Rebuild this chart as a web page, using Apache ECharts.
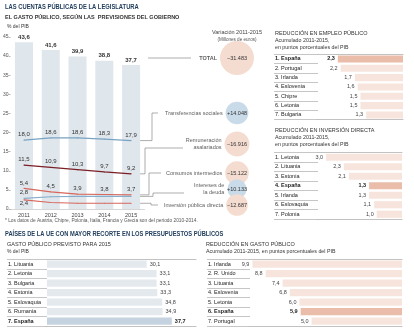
<!DOCTYPE html>
<html><head><meta charset="utf-8">
<script src="https://cdn.jsdelivr.net/npm/echarts@6/dist/echarts.min.js"></script>
<style>html,body{margin:0;padding:0;background:#fff}#c{width:414px;height:332px}</style>
</head><body><div id="c"></div>
<script>
// ---------- DATA ----------
const years = ['2011', '2012', '2013', '2014', '2015'];
const gastoTotal = [43.6, 41.6, 39.9, 38.8, 37.7];
const transferencias = [18.0, 18.6, 18.6, 18.3, 17.9];
const remuneracion = [11.5, 10.9, 10.3, 9.7, 9.2];
const consumos = [5.4, 4.5, 3.9, 3.8, 3.7];
const intereses = [2.8, 3.2, 3.3, 3.3, 3.3];
const inversion = [2.4, 1.7, 1.5, 1.5, 1.5];

const partidas = ['TOTAL', 'Transferencias sociales', 'Remuneración\nasalariados', 'Consumos intermedios', 'Intereses de\nla deuda', 'Inversión pública directa'];
const variacion = [-31483, 14048, -16916, -15122, 10133, -12687];

const empleoPaises = ['España', 'Portugal', 'Irlanda', 'Eslovenia', 'Chipre', 'Letonia', 'Bulgaria'];
const empleoValores = [2.3, 2.2, 1.7, 1.6, 1.5, 1.5, 1.3];
const inversionPaises = ['Letonia', 'Lituania', 'Estonia', 'España', 'Irlanda', 'Eslovaquia', 'Polonia'];
const inversionValores = [3.0, 2.3, 2.1, 1.3, 1.3, 1.1, 1.0];
const gastoPaises = ['Lituania', 'Letonia', 'Bulgaria', 'Estonia', 'Eslovaquia', 'Rumanía', 'España'];
const gastoValores = [30.1, 33.1, 33.1, 33.3, 34.8, 34.9, 37.7];
const reduccionPaises = ['Irlanda', 'R. Unido', 'Lituania', 'Eslovenia', 'Letonia', 'España', 'Portugal'];
const reduccionValores = [9.9, 8.8, 7.4, 6.8, 6.0, 5.9, 5.0];

// ---------- LAYOUT ----------
const FONT = '"Liberation Sans", Arial, Helvetica, sans-serif';
const BUBBLE_X = 237;
const bubbleRowsY = [58, 113, 144, 173, 189, 205];
const BUBBLE_MAX = 34;

const fmt1 = v => Number(v).toFixed(1).replace('.', ',');
const fmtSigned = v => (v < 0 ? '\u2212' : '+') + String(Math.abs(v)).replace(/\B(?=(\d{3})+(?!\d))/g, '.');

const grids = [], xAxes = [], yAxes = [], series = [];
const addGrid = g => (grids.push(g), grids.length - 1);
const addX = a => (xAxes.push(a), xAxes.length - 1);
const addY = a => (yAxes.push(a), yAxes.length - 1);

// main chart
const gMain = addGrid({left: 9, top: 37, width: 135.5, height: 172});
const xMain = addX({gridIndex: gMain, type: 'category', data: years,
  axisLine: {show: true, lineStyle: {color: '#bbb', width: 0.6}}, axisTick: {show: false},
  axisLabel: {fontSize: 5.5, color: '#444', margin: 3}});
const yMain = addY({gridIndex: gMain, type: 'value', min: 0, max: 45, interval: 5,
  axisLine: {show: false}, axisTick: {show: true, length: 2, lineStyle: {color: '#888', width: 0.6}},
  axisLabel: {fontSize: 5, color: '#555', margin: 2}, splitLine: {show: false}});
series.push({type: 'bar', xAxisIndex: xMain, yAxisIndex: yMain, data: gastoTotal, barWidth: 18,
  itemStyle: {color: '#dfe6ec'},
  label: {show: true, position: 'top', distance: 2, fontSize: 6, fontWeight: 'bold', color: '#333', formatter: p => fmt1(p.value)}});

function lineSeries(data, color, mode) {
  return {type: 'line', xAxisIndex: xMain, yAxisIndex: yMain, symbol: 'circle', symbolSize: 1, showSymbol: true,
    lineStyle: {color, width: 1.2}, itemStyle: {color}, z: 3,
    data: data.map((v, i) => ({value: v, label: {show: mode === 'all' || i === 0, position: mode === 'firstBelow' ? 'bottom' : 'top'}})),
    label: {show: true, fontSize: 6, color: '#333', distance: mode === 'firstBelow' ? 0 : 2, formatter: p => fmt1(p.value)}};
}
const sTrans = series.push(lineSeries(transferencias, '#79a3c2', 'all')) - 1;
const sRem = series.push(lineSeries(remuneracion, '#7b1f27', 'all')) - 1;
const sCons = series.push(lineSeries(consumos, '#d8675c', 'all')) - 1;
const sInt = series.push(lineSeries(intereses, '#86aecb', 'first')) - 1;
const sInv = series.push(lineSeries(inversion, '#d8675c', 'firstBelow')) - 1;

// bubbles
const gBub = addGrid({left: 0, top: 0, width: 414, height: 332});
const xBub = addX({gridIndex: gBub, type: 'value', min: 0, max: 414, show: false});
const yBub = addY({gridIndex: gBub, type: 'value', min: 0, max: 332, inverse: true, show: false});
const bubbleSize = d => BUBBLE_MAX * Math.sqrt(Math.abs(d[2]) / Math.abs(variacion[0]));
series.push({type: 'scatter', xAxisIndex: xBub, yAxisIndex: yBub, symbolSize: bubbleSize,
  data: partidas.map((n, i) => ({name: n, value: [BUBBLE_X, bubbleRowsY[i], variacion[i]],
    itemStyle: {color: variacion[i] < 0 ? '#f5dcd0' : '#c9dbe8', opacity: 1}})),
  label: {show: true, position: 'inside', fontSize: 5.5, color: '#333', formatter: p => fmtSigned(p.value[2])}});
series.push({type: 'scatter', xAxisIndex: xBub, yAxisIndex: yBub, symbolSize: bubbleSize, z: 4,
  itemStyle: {color: 'rgba(255,255,255,0)'},
  labelLayout: {hideOverlap: false},
  data: partidas.map((n, i) => ({name: n, value: [BUBBLE_X, bubbleRowsY[i], variacion[i]],
    label: {fontWeight: i === 0 ? 'bold' : 'normal'}})),
  label: {show: true, position: 'left', distance: 3, fontSize: 5.5, lineHeight: 7, color: '#333', align: 'right', formatter: p => p.name}});

// ranking panels
function addPanel(p) {
  const gN = addGrid({left: p.namesLeft, top: p.top, width: p.namesWidth, height: p.height});
  addX({gridIndex: gN, type: 'value', min: 0, max: 1, show: false});
  addY({gridIndex: gN, type: 'category', inverse: true,
    data: p.names.map((n, i) => ({value: (i + 1) + '. ' + n, textStyle: {fontWeight: n === p.hl ? 'bold' : 'normal'}})),
    axisLine: {show: false}, axisTick: {show: false},
    axisLabel: {inside: true, align: 'left', margin: 1, fontSize: 5.5, color: '#222'},
    splitLine: {show: true, lineStyle: {color: '#a0a0a0', width: 0.6}}});
  const gB = addGrid({left: p.barsLeft, top: p.top, width: p.barsWidth, height: p.height});
  const xB = addX({gridIndex: gB, type: 'value', inverse: p.inverse, min: p.min, max: p.max, startValue: p.min,
    position: 'top', axisLine: {show: true, onZero: false, lineStyle: {color: '#999', width: 0.6}},
    axisTick: {show: false}, axisLabel: {show: false}, splitLine: {show: false}});
  addX({gridIndex: gB, type: 'value', min: 0, max: 1, position: 'bottom',
    axisLine: {show: true, onZero: false, lineStyle: {color: '#999', width: 0.6}},
    axisTick: {show: false}, axisLabel: {show: false}, splitLine: {show: false}});
  const yB = addY({gridIndex: gB, type: 'category', inverse: true, data: p.names, show: false});
  series.push({type: 'bar', xAxisIndex: xB, yAxisIndex: yB, barCategoryGap: '24%',
    data: p.values.map((v, i) => ({value: v,
      itemStyle: {color: p.names[i] === p.hl ? p.hlColor : p.color},
      label: {fontWeight: p.names[i] === p.hl ? 'bold' : 'normal', color: p.names[i] === p.hl ? '#222' : '#444'}})),
    label: {show: true, position: p.labelPos, distance: 3, fontSize: 5.5, formatter: q => fmt1(q.value)}});
}
addPanel({names: empleoPaises, values: empleoValores, hl: 'España', top: 54.3, height: 65.3,
  namesLeft: 274, namesWidth: 44, barsLeft: 318, barsWidth: 85, inverse: true, min: 0, max: 3.0,
  labelPos: 'left', color: '#f7e5dd', hlColor: '#e9bda9'});
addPanel({names: inversionPaises, values: inversionValores, hl: 'España', top: 152.5, height: 66.5,
  namesLeft: 274, namesWidth: 44, barsLeft: 318, barsWidth: 84, inverse: true, min: 0, max: 3.32,
  labelPos: 'left', color: '#f7e5dd', hlColor: '#e9bda9'});
addPanel({names: gastoPaises, values: gastoValores, hl: 'España', top: 259.3, height: 66.5,
  namesLeft: 7, namesWidth: 40, barsLeft: 47, barsWidth: 149, inverse: false, min: 0, max: 45,
  labelPos: 'right', color: '#e4e9ee', hlColor: '#c4d3df'});
addPanel({names: reduccionPaises, values: reduccionValores, hl: 'España', top: 259.3, height: 66.5,
  namesLeft: 207, namesWidth: 43, barsLeft: 250, barsWidth: 152, inverse: true, min: -2.5, max: 10.1,
  labelPos: 'left', color: '#f7e5dd', hlColor: '#e9bda9'});

// ---------- TEXTS ----------
function txt(x, y, text, o = {}) {
  return {type: 'text', x, y, scaleX: o.sx || 1, silent: true, z: 10,
    style: {text, fontSize: o.size || 5.5, fontWeight: o.bold ? 'bold' : 'normal', fontFamily: FONT,
      fill: o.color || '#333', align: o.align || 'left', verticalAlign: 'middle'}};
}
const NAVY = '#223f5d';
const texts = [
  txt(5, 7, 'LAS CUENTAS PÚBLICAS DE LA LEGISLATURA', {size: 7, bold: true, color: NAVY, sx: 0.83}),
  txt(5, 17, 'EL GASTO PÚBLICO, SEGÚN LAS  PREVISIONES DEL GOBIERNO', {size: 6, bold: true, color: '#333', sx: 0.92}),
  txt(7, 27, '% del PIB', {size: 5}),
  txt(BUBBLE_X, 32, 'Variación 2011-2015', {size: 5.5, align: 'center', color: '#444'}),
  txt(BUBBLE_X, 40, '(Millones de euros)', {size: 4.6, align: 'center', color: '#555'}),
  txt(275, 33, 'REDUCCIÓN EN EMPLEO PÚBLICO', {size: 5.5}),
  txt(275, 41, 'Acumulado 2011-2015,', {size: 5.3}),
  txt(275, 48, 'en puntos porcentuales del PIB', {size: 5.3}),
  txt(275, 130, 'REDUCCIÓN EN INVERSIÓN DIRECTA', {size: 5.5}),
  txt(275, 138, 'Acumulado 2011-2015,', {size: 5.3}),
  txt(275, 145, 'en puntos porcentuales del PIB', {size: 5.3}),
  txt(5, 221, '* Los datos de Austria, Chipre, Polonia, Italia, Francia y Grecia son del periodo 2010-2014.', {size: 4.8, color: '#555'}),
  txt(5, 234, 'PAÍSES DE LA UE CON MAYOR RECORTE EN LOS PRESUPUESTOS PÚBLICOS', {size: 7, bold: true, color: NAVY, sx: 0.82}),
  txt(7, 244, 'GASTO PÚBLICO PREVISTO PARA 2015', {size: 5.5}),
  txt(7, 252, '% del PIB', {size: 5}),
  txt(206, 244, 'REDUCCIÓN EN GASTO PÚBLICO', {size: 5.5}),
  txt(206, 252, 'Acumulado 2011-2015, en puntos porcentuales del PIB', {size: 5.3})
];

const chart = echarts.init(document.getElementById('c'), null, {renderer: 'canvas'});
chart.setOption({
  animation: false,
  textStyle: {fontFamily: FONT},
  grid: grids, xAxis: xAxes, yAxis: yAxes, series,
  graphic: texts
});

// connectors from the 2015 points to the labels (positions from the chart's scales)
const last = years.length - 1;
const px = (si, v) => chart.convertToPixel({seriesIndex: si}, [last, v]);
const line = pts => ({type: 'polyline', silent: true, z: 2, shape: {points: pts}, style: {stroke: '#8a8a8a', lineWidth: 0.7, fill: null}});
const pT = px(sTrans, transferencias[last]);
const pR = px(sRem, remuneracion[last]);
const pC = px(sCons, consumos[last]);
const pI = px(sInt, intereses[last]);
const pV = px(sInv, inversion[last]);
const pTot = chart.convertToPixel({seriesIndex: 0}, [last, gastoTotal[last]]);
const conns = [
  line([[pTot[0] + 17, bubbleRowsY[0]], [191, bubbleRowsY[0]]]),
  line([pT, [152, pT[1]], [152, bubbleRowsY[1]], [158, bubbleRowsY[1]]]),
  line([pR, [145, pR[1]], [145, bubbleRowsY[2] + 4], [183, bubbleRowsY[2] + 4]]),
  line([pC, [149, pC[1]], [149, bubbleRowsY[3]], [161, bubbleRowsY[3]]]),
  line([pI, [153, pI[1]], [153, bubbleRowsY[4] + 4], [184, bubbleRowsY[4] + 4]]),
  line([pV, [151, pV[1]], [151, bubbleRowsY[5]], [158, bubbleRowsY[5]]])
];
chart.setOption({graphic: texts.concat(conns)});
</script>
</body></html>
